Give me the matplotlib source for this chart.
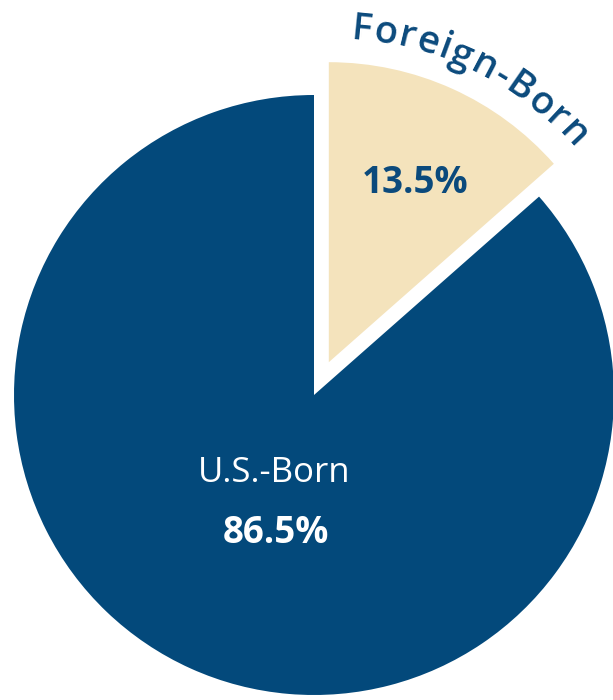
import matplotlib
matplotlib.use('Agg')
import matplotlib.pyplot as plt
import numpy as np

# ---- data ----
categories = ['Foreign-Born', 'U.S.-Born']
shares = [13.5, 86.5]
pct_labels = ['13.5%', '86.5%']
slice_colors = ['#F4E3BC', '#03497B']
text_navy = '#0B4A7C'

# ---- layout (pixels) ----
W, H = 613, 700
R_PX = 300.0
CX, CY = 314, 395
EXPL_PX = 36.0

fig = plt.figure(figsize=(W / 100, H / 100), dpi=100)
fig.patch.set_facecolor('white')
ax = fig.add_axes([0, 0, 1, 1])
ax.axis('off')

explode = [EXPL_PX / R_PX, 0]
wedges, _ = ax.pie(shares, colors=slice_colors, startangle=90, counterclock=False,
                   explode=explode, radius=1.0, center=(0, 0),
                   wedgeprops=dict(linewidth=0))
ax.set_xlim(-CX / R_PX, (W - CX) / R_PX)
ax.set_ylim(-(H - CY) / R_PX, CY / R_PX)
ax.set_aspect('auto')

def px(x, y):
    return ((x - CX) / R_PX, (CY - y) / R_PX)

font = 'Open Sans'
ax.text(*px(415, 183), pct_labels[0], fontsize=26.5, fontweight='bold', color=text_navy,
        family=font, ha='center', va='center')
ax.text(*px(274, 473), categories[1], fontsize=25, fontweight='medium', color='white',
        family=font, ha='center', va='center')
ax.text(*px(276, 533), pct_labels[1], fontsize=26.5, fontweight='bold', color='white',
        family=font, ha='center', va='center')

# ---- curved label for Foreign-Born ----
label = categories[0]
fs = 27.5
fig.canvas.draw()
rend = fig.canvas.get_renderer()
prefix_w = [0.0]
for i in range(1, len(label) + 1):
    t = ax.text(0, 0, label[:i], fontsize=fs, fontweight='semibold', family=font)
    prefix_w.append(t.get_window_extent(rend).width)
    t.remove()
spacing = 1.5
centers = [(prefix_w[i] + prefix_w[i + 1]) / 2 + spacing * i for i in range(len(label))]
total = prefix_w[-1] + spacing * (len(label) - 1)

mid_slice = 90 - shares[0] / 100 * 360 / 2
theta_m = np.deg2rad(mid_slice)
ox, oy = explode[0] * np.cos(theta_m), explode[0] * np.sin(theta_m)
mid_deg = 63.5
Rb_px = 324.0
Rb = Rb_px / R_PX
start_angle = mid_deg + np.rad2deg(total / 2 / Rb_px)
for ch, c in zip(label, centers):
    ang = start_angle - np.rad2deg(c / Rb_px)
    a = np.deg2rad(ang)
    ax.text(ox + Rb * np.cos(a), oy + Rb * np.sin(a), ch, fontsize=fs,
            fontweight='semibold', family=font, color=text_navy,
            rotation=ang - 90, rotation_mode='anchor', ha='center', va='baseline')

fig.savefig('out.png', dpi=100, facecolor='white')
